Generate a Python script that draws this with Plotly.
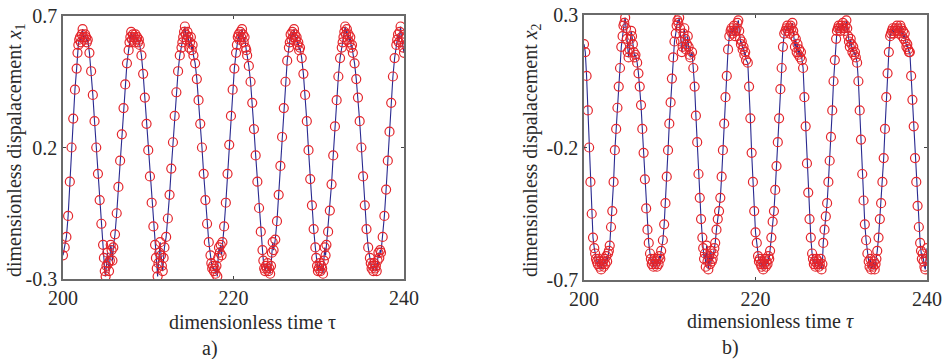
import plotly.graph_objects as go

# ---------------- Panel a) : x1 ----------------
tau_a = [
    200.0, 200.2, 200.4, 200.6, 200.8, 201.0, 201.2, 201.4, 201.6, 201.7,
    201.8, 201.9, 202.0, 202.1, 202.2, 202.3, 202.4, 202.5, 202.6, 202.7, 202.8, 202.9,
    203.1, 203.3, 203.5, 203.7, 203.9, 204.1, 204.3, 204.5, 204.7,
    204.8, 204.9, 205.0, 205.1, 205.2, 205.3, 205.4, 205.5, 205.6, 205.7, 205.8, 205.9,
    206.1, 206.3, 206.5, 206.7, 206.9, 207.1, 207.3, 207.5, 207.7,
    207.8, 207.9, 208.0, 208.1, 208.2, 208.3, 208.4, 208.5, 208.6, 208.7, 208.8, 208.9, 209.0,
    209.2, 209.4, 209.6, 209.8, 210.0, 210.2, 210.4, 210.6, 210.8,
    210.9, 211.0, 211.1, 211.2, 211.3, 211.4, 211.5, 211.6, 211.7, 211.8, 211.9,
    212.1, 212.3, 212.5, 212.7, 212.9, 213.1, 213.3, 213.5, 213.7, 213.9,
    214.0, 214.1, 214.2, 214.3, 214.4, 214.5, 214.6, 214.7, 214.8, 214.9, 215.0, 215.1, 215.2, 215.3,
    215.5, 215.7, 215.9, 216.1, 216.3, 216.5, 216.7, 216.9, 217.1, 217.3,
    217.4, 217.5, 217.6, 217.7, 217.8, 217.9, 218.0, 218.1, 218.2, 218.3, 218.4, 218.5, 218.6, 218.7,
    218.9, 219.1, 219.3, 219.5, 219.7, 219.9, 220.1, 220.3,
    220.4, 220.5, 220.6, 220.7, 220.8, 220.9, 221.0, 221.1, 221.2, 221.3, 221.4, 221.5, 221.6,
    221.8, 222.0, 222.2, 222.4, 222.6, 222.8, 223.0, 223.2, 223.4,
    223.5, 223.6, 223.7, 223.8, 223.9, 224.0, 224.1, 224.2, 224.3, 224.4, 224.5, 224.6, 224.7,
    224.9, 225.1, 225.3, 225.5, 225.7, 225.9, 226.1, 226.3, 226.5,
    226.6, 226.7, 226.8, 226.9, 227.0, 227.1, 227.2, 227.3, 227.4, 227.5, 227.6, 227.7, 227.8,
    228.0, 228.2, 228.4, 228.6, 228.8, 229.0, 229.2, 229.4, 229.6,
    229.7, 229.8, 229.9, 230.0, 230.1, 230.2, 230.3, 230.4, 230.5, 230.6, 230.7, 230.8, 230.9,
    231.1, 231.3, 231.5, 231.7, 231.9, 232.1, 232.3, 232.5, 232.7,
    232.8, 232.9, 233.0, 233.1, 233.2, 233.3, 233.4, 233.5, 233.6, 233.7, 233.8, 233.9, 234.0,
    234.2, 234.4, 234.6, 234.8, 235.0, 235.2, 235.4, 235.6, 235.8,
    236.0, 236.1, 236.2, 236.3, 236.4, 236.5, 236.6, 236.7, 236.8, 236.9, 237.0, 237.1, 237.2, 237.3,
    237.5, 237.7, 237.9, 238.1, 238.3, 238.5, 238.7, 238.9, 239.1,
    239.2, 239.3, 239.4, 239.5, 239.6, 239.7, 239.8, 239.9, 240.0,
]
x1 = [
    -0.21, -0.18, -0.14, -0.06, 0.07, 0.20, 0.31, 0.42, 0.50, 0.56,
    0.59, 0.61, 0.62, 0.60, 0.63, 0.65, 0.62, 0.61, 0.63, 0.62, 0.60, 0.61,
    0.56, 0.49, 0.40, 0.30, 0.20, 0.10, 0.00, -0.09, -0.17,
    -0.22, -0.27, -0.29, -0.25, -0.20, -0.24, -0.27, -0.23, -0.17, -0.19, -0.23, -0.18,
    -0.13, -0.05, 0.05, 0.15, 0.25, 0.35, 0.44, 0.52, 0.57,
    0.60, 0.62, 0.64, 0.61, 0.63, 0.62, 0.60, 0.63, 0.61, 0.62, 0.60, 0.61, 0.59,
    0.55, 0.48, 0.39, 0.29, 0.19, 0.09, -0.01, -0.10, -0.17,
    -0.22, -0.26, -0.29, -0.24, -0.20, -0.16, -0.21, -0.25, -0.27, -0.22, -0.18,
    -0.14, -0.07, 0.02, 0.12, 0.22, 0.32, 0.41, 0.49, 0.55, 0.58,
    0.60, 0.62, 0.64, 0.66, 0.63, 0.61, 0.64, 0.62, 0.58, 0.60, 0.62, 0.57, 0.59, 0.55,
    0.52, 0.46, 0.38, 0.29, 0.20, 0.10, 0.00, -0.09, -0.16, -0.21,
    -0.24, -0.26, -0.25, -0.27, -0.26, -0.28, -0.25, -0.29, -0.22, -0.18, -0.20, -0.17, -0.21, -0.16,
    -0.10, -0.01, 0.10, 0.21, 0.32, 0.42, 0.50, 0.56,
    0.59, 0.62, 0.63, 0.61, 0.64, 0.62, 0.65, 0.63, 0.60, 0.62, 0.58, 0.57, 0.55,
    0.51, 0.45, 0.37, 0.27, 0.17, 0.07, -0.03, -0.12, -0.19,
    -0.23, -0.26, -0.27, -0.25, -0.26, -0.24, -0.27, -0.26, -0.28, -0.25, -0.20, -0.16, -0.19,
    -0.15, -0.08, 0.02, 0.13, 0.24, 0.35, 0.45, 0.53, 0.58,
    0.60, 0.63, 0.61, 0.64, 0.62, 0.65, 0.63, 0.61, 0.62, 0.59, 0.60, 0.57, 0.58,
    0.54, 0.48, 0.40, 0.30, 0.19, 0.08, -0.02, -0.11, -0.18,
    -0.22, -0.25, -0.27, -0.26, -0.24, -0.27, -0.25, -0.26, -0.28, -0.23, -0.18, -0.21, -0.17,
    -0.12, -0.04, 0.06, 0.17, 0.28, 0.38, 0.47, 0.54, 0.58,
    0.60, 0.62, 0.64, 0.66, 0.63, 0.65, 0.61, 0.63, 0.60, 0.62, 0.58, 0.59, 0.56,
    0.52, 0.46, 0.39, 0.30, 0.20, 0.09, -0.02, -0.11, -0.18,
    -0.22, -0.24, -0.26, -0.25, -0.27, -0.24, -0.26, -0.25, -0.27, -0.23, -0.20, -0.22, -0.19, -0.20,
    -0.14, -0.06, 0.04, 0.15, 0.26, 0.37, 0.47, 0.54, 0.59,
    0.61, 0.63, 0.60, 0.64, 0.66, 0.62, 0.60, 0.58, 0.56,
]

# ---------------- Panel b) : x2 ----------------
tau_b = [
    200.0, 200.15, 200.3, 200.45, 200.6, 200.75, 200.9, 201.05, 201.2,
    201.3, 201.4, 201.5, 201.6, 201.7, 201.8, 201.9, 202.0, 202.1, 202.2, 202.3, 202.4, 202.5, 202.6, 202.7, 202.8, 202.9,
    203.0, 203.15, 203.3, 203.45, 203.6, 203.75, 203.9, 204.05, 204.2, 204.35,
    204.5, 204.6, 204.7, 204.8, 204.9, 205.0, 205.1, 205.2, 205.3, 205.4, 205.5, 205.6, 205.7, 205.8, 205.9, 206.0,
    206.2, 206.35, 206.5, 206.65, 206.8, 206.95, 207.1, 207.25, 207.4, 207.55,
    207.7, 207.8, 207.9, 208.0, 208.1, 208.2, 208.3, 208.4, 208.5, 208.6, 208.7, 208.8, 208.9, 209.0,
    209.2, 209.35, 209.5, 209.65, 209.8, 209.95, 210.1, 210.25, 210.4, 210.55,
    210.7, 210.8, 210.9, 211.0, 211.1, 211.2, 211.3, 211.4, 211.5, 211.6, 211.7, 211.8, 211.9, 212.0, 212.1, 212.2, 212.3, 212.4,
    212.6, 212.75, 212.9, 213.05, 213.2, 213.35, 213.5, 213.65, 213.8,
    213.9, 214.0, 214.1, 214.2, 214.3, 214.4, 214.5, 214.6, 214.7, 214.8, 214.9, 215.0, 215.1, 215.2,
    215.3, 215.45, 215.6, 215.75, 215.9, 216.05, 216.2, 216.35, 216.5, 216.65, 216.8, 216.95,
    217.1, 217.2, 217.3, 217.4, 217.5, 217.6, 217.7, 217.8, 217.9, 218.0, 218.1, 218.2, 218.3, 218.4, 218.5, 218.6, 218.7, 218.8, 218.9,
    219.1, 219.25, 219.4, 219.55, 219.7, 219.85, 220.0, 220.15, 220.3,
    220.4, 220.5, 220.6, 220.7, 220.8, 220.9, 221.0, 221.1, 221.2, 221.3, 221.4, 221.5, 221.6,
    221.7, 221.85, 222.0, 222.15, 222.3, 222.45, 222.6, 222.75, 222.9, 223.05, 223.2, 223.35,
    223.5, 223.6, 223.7, 223.8, 223.9, 224.0, 224.1, 224.2, 224.3, 224.4, 224.5, 224.6, 224.7, 224.8, 224.9, 225.0, 225.1, 225.2, 225.3, 225.4,
    225.55, 225.7, 225.85, 226.0, 226.15, 226.3, 226.45, 226.6,
    226.7, 226.8, 226.9, 227.0, 227.1, 227.2, 227.3, 227.4, 227.5, 227.6, 227.7, 227.8,
    227.9, 228.05, 228.2, 228.35, 228.5, 228.65, 228.8, 228.95, 229.1, 229.25, 229.4,
    229.5, 229.6, 229.7, 229.8, 229.9, 230.0, 230.1, 230.2, 230.3, 230.4, 230.5, 230.6, 230.7, 230.8, 230.9, 231.0, 231.1, 231.2, 231.3, 231.4, 231.5, 231.6, 231.7,
    231.85, 232.0, 232.15, 232.3, 232.45, 232.6, 232.75, 232.9, 233.05,
    233.2, 233.3, 233.4, 233.5, 233.6, 233.7, 233.8, 233.9, 234.0, 234.1,
    234.2, 234.35, 234.5, 234.65, 234.8, 234.95, 235.1, 235.25, 235.4, 235.55, 235.7,
    235.8, 235.9, 236.0, 236.1, 236.2, 236.3, 236.4, 236.5, 236.6, 236.7, 236.8, 236.9, 237.0, 237.1, 237.2, 237.3, 237.4, 237.5, 237.6, 237.7, 237.8, 237.9,
    238.0, 238.15, 238.3, 238.45, 238.6, 238.75, 238.9, 239.05, 239.2,
    239.3, 239.4, 239.5, 239.6, 239.7, 239.8, 239.9, 240.0,
]
x2 = [
    0.19, 0.16, 0.07, -0.06, -0.20, -0.33, -0.45, -0.54, -0.58,
    -0.60, -0.62, -0.63, -0.64, -0.62, -0.65, -0.63, -0.66, -0.64, -0.63, -0.65, -0.62, -0.64, -0.61, -0.63, -0.60, -0.59,
    -0.57, -0.50, -0.44, -0.33, -0.21, -0.13, -0.05, 0.03, 0.10, 0.18,
    0.22, 0.26, 0.27, 0.29, 0.25, 0.21, 0.16, 0.14, 0.17, 0.21, 0.24, 0.22, 0.19, 0.16, 0.14, 0.15,
    0.12, 0.08, 0.03, -0.04, -0.13, -0.22, -0.32, -0.43, -0.51, -0.56,
    -0.60, -0.62, -0.64, -0.63, -0.65, -0.62, -0.64, -0.63, -0.65, -0.62, -0.64, -0.61, -0.62, -0.59,
    -0.55, -0.49, -0.41, -0.31, -0.21, -0.11, -0.03, 0.06, 0.14, 0.20,
    0.23, 0.26, 0.28, 0.27, 0.29, 0.25, 0.20, 0.16, 0.18, 0.23, 0.25, 0.21, 0.17, 0.19, 0.22, 0.18, 0.15, 0.14,
    0.16, 0.10, 0.03, -0.08, -0.18, -0.30, -0.39, -0.47, -0.54,
    -0.58, -0.62, -0.60, -0.65, -0.57, -0.63, -0.66, -0.61, -0.64, -0.59, -0.63, -0.62, -0.60, -0.58,
    -0.56, -0.51, -0.47, -0.44, -0.39, -0.31, -0.21, -0.11, -0.01, 0.07, 0.17, 0.22,
    0.24, 0.25, 0.23, 0.24, 0.26, 0.22, 0.24, 0.25, 0.27, 0.28, 0.24, 0.21, 0.19, 0.20, 0.17, 0.18, 0.15, 0.16, 0.13,
    0.12, 0.03, -0.09, -0.22, -0.33, -0.44, -0.52, -0.56, -0.61,
    -0.63, -0.62, -0.64, -0.65, -0.63, -0.66, -0.64, -0.62, -0.65, -0.63, -0.64, -0.61, -0.62,
    -0.59, -0.54, -0.48, -0.44, -0.36, -0.27, -0.18, -0.09, 0.02, 0.10, 0.18, 0.23,
    0.24, 0.25, 0.26, 0.24, 0.25, 0.23, 0.26, 0.25, 0.27, 0.24, 0.22, 0.18, 0.21, 0.16, 0.19, 0.15, 0.17, 0.14, 0.16, 0.13,
    0.10, -0.01, -0.12, -0.26, -0.37, -0.47, -0.54, -0.60,
    -0.62, -0.64, -0.63, -0.65, -0.62, -0.64, -0.63, -0.65, -0.64, -0.62, -0.66, -0.64,
    -0.56, -0.51, -0.46, -0.41, -0.33, -0.25, -0.16, -0.06, 0.05, 0.13, 0.21,
    0.24, 0.25, 0.26, 0.25, 0.24, 0.26, 0.25, 0.27, 0.25, 0.24, 0.26, 0.28, 0.25, 0.22, 0.20, 0.18, 0.21, 0.19, 0.16, 0.18, 0.15, 0.16, 0.14,
    0.12, 0.05, -0.06, -0.17, -0.30, -0.40, -0.49, -0.55, -0.60,
    -0.63, -0.65, -0.62, -0.66, -0.64, -0.65, -0.63, -0.66, -0.64, -0.62,
    -0.59, -0.54, -0.47, -0.41, -0.33, -0.24, -0.13, -0.01, 0.08, 0.16, 0.22,
    0.23, 0.24, 0.25, 0.23, 0.24, 0.25, 0.24, 0.26, 0.25, 0.23, 0.24, 0.26, 0.25, 0.22, 0.24, 0.21, 0.23, 0.20, 0.18, 0.19, 0.17, 0.16,
    0.16, 0.07, -0.02, -0.12, -0.24, -0.33, -0.42, -0.50, -0.56,
    -0.59, -0.62, -0.60, -0.63, -0.65, -0.66, -0.62, -0.58,
]

x_ticks = [200, 220, 240]
ya_ticks = [-0.3, 0.2, 0.7]
ya_text = ["-0.3", "0.2", "0.7"]
yb_ticks = [-0.7, -0.2, 0.3]
yb_text = ["-0.7", "-0.2", "0.3"]

assert len(tau_a) == len(x1), (len(tau_a), len(x1))
assert len(tau_b) == len(x2), (len(tau_b), len(x2))

FONT = "Liberation Serif"
TXT = "#2a2a2a"
RED = "#e4252b"
BLUE = "#2a2a90"
W, H = 947, 359

fig = go.Figure()
for xs, ys, xa, ya in [(tau_a, x1, "x", "y"), (tau_b, x2, "x2", "y2")]:
    fig.add_trace(go.Scatter(
        x=xs, y=ys, xaxis=xa, yaxis=ya, mode="lines+markers",
        line=dict(color=BLUE, width=1.1),
        marker=dict(symbol="circle-open", size=9, color=RED, line=dict(width=1.2, color=RED)),
        showlegend=False, hoverinfo="skip",
    ))

axis_common = dict(
    showgrid=False, zeroline=False, showline=True, linecolor="#6a6a6a", linewidth=1.5,
    mirror="ticks", ticks="inside", ticklen=3, tickcolor="#444", tickwidth=1,
    tickfont=dict(family=FONT, size=20, color=TXT), automargin=False,
)

fig.update_layout(
    width=W, height=H,
    margin=dict(l=0, r=0, t=0, b=0, pad=0, autoexpand=False),
    paper_bgcolor="white", plot_bgcolor="white",
    xaxis=dict(domain=[63/W, 404/W], range=[200, 240], tickvals=x_ticks, anchor="y", **axis_common),
    yaxis=dict(domain=[1-279/H, 1-16/H], range=[-0.3, 0.7], tickvals=ya_ticks, ticktext=ya_text, anchor="x", **axis_common),
    xaxis2=dict(domain=[584/W, 927/W], range=[200, 240], tickvals=x_ticks, anchor="y2", **axis_common),
    yaxis2=dict(domain=[1-280/H, 1-15/H], range=[-0.7, 0.3], tickvals=yb_ticks, ticktext=yb_text, anchor="x2", **axis_common),
)

def ann(text, x, y, angle=0):
    fig.add_annotation(text=text, x=x/W, y=1-y/H, xref="paper", yref="paper",
                       showarrow=False, textangle=angle, xanchor="center", yanchor="middle",
                       font=dict(family=FONT, size=20, color=TXT))

ann("dimensionless time τ", 252, 322)
ann("dimensionless time <i>τ</i>", 770, 321)
ann("dimensionless dispalacement <i>x</i><sub>1</sub>", 15, 150, -90)
ann("dimensionless dispalacement <i>x</i><sub>2</sub>", 531, 150, -90)
ann("a)", 210, 348)
ann("b)", 730, 347)

fig.write_html("out.html", config={"displayModeBar": False},
               post_script="document.body.style.margin='0px';document.body.style.padding='0px';")
